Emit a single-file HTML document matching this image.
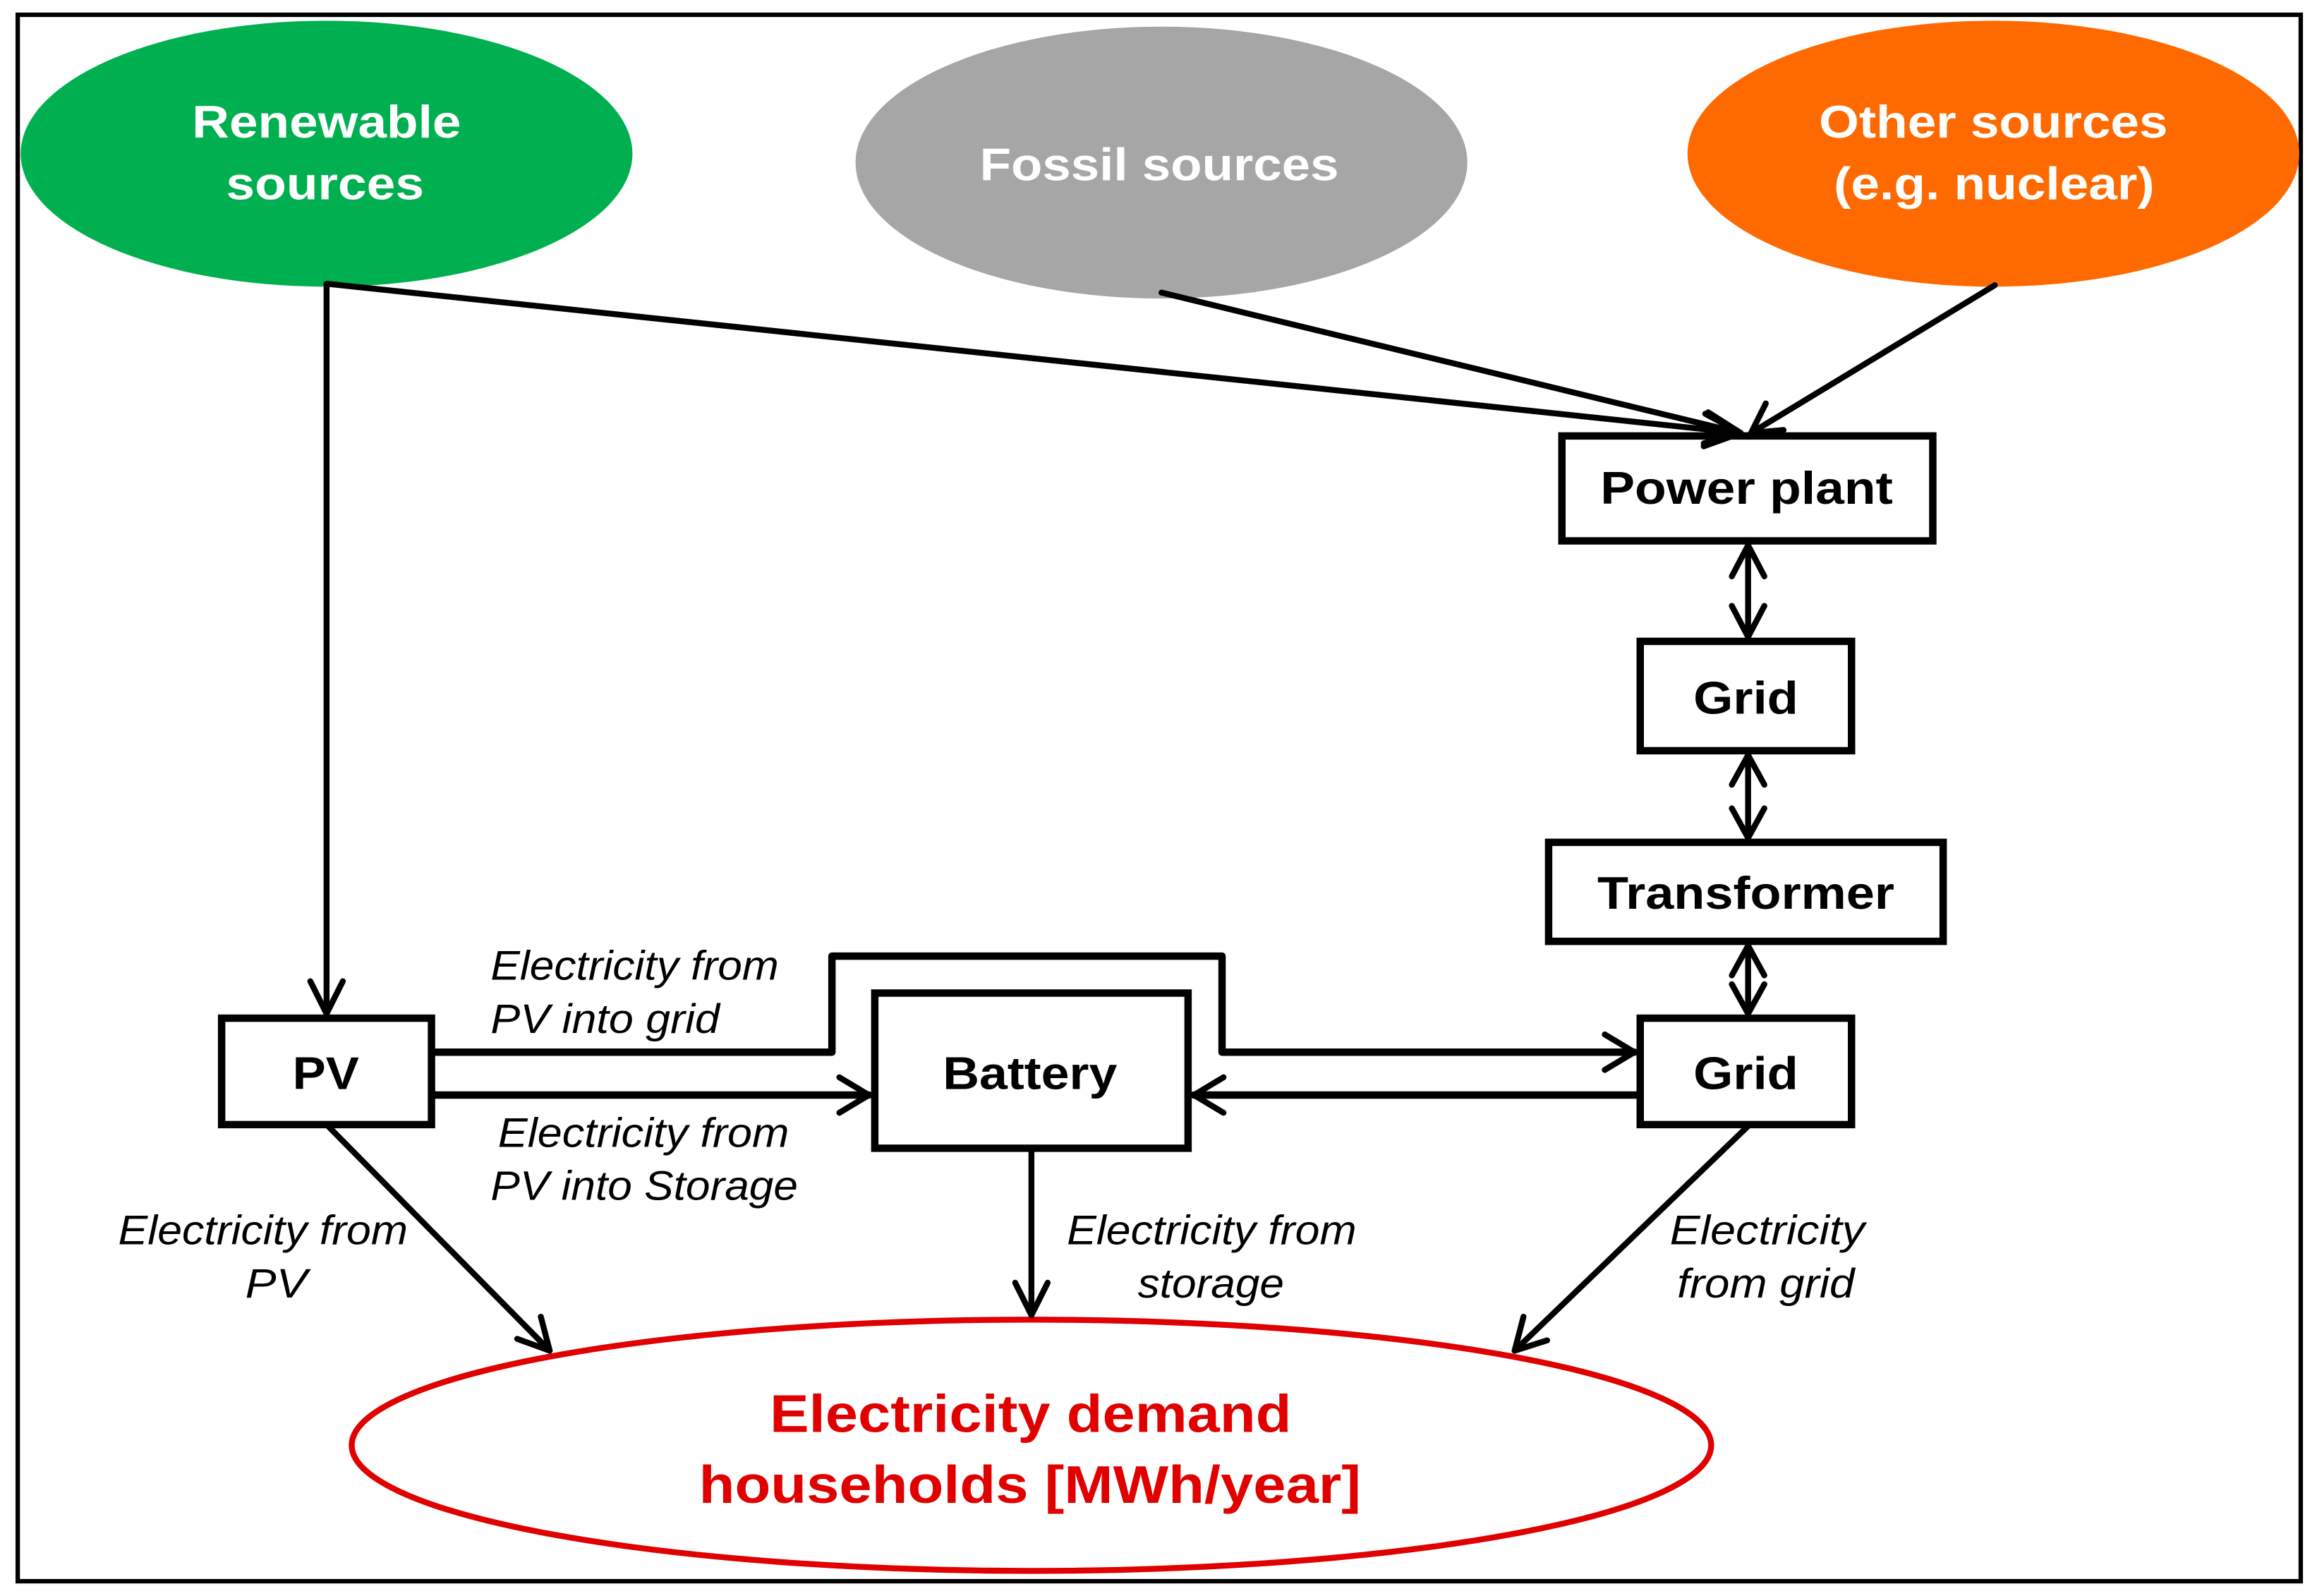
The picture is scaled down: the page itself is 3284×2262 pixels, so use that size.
<!DOCTYPE html>
<html><head><meta charset="utf-8"><style>html,body{margin:0;padding:0;background:#fff}svg{display:block}</style></head>
<body>
<svg width="3284" height="2262" viewBox="0 0 1568 1080" preserveAspectRatio="none" xmlns="http://www.w3.org/2000/svg" font-family="Liberation Sans, Arial, sans-serif">
<rect x="0" y="0" width="1568" height="1080" fill="#fff"/>
<rect x="12" y="10" width="1545" height="1060" fill="none" stroke="#000" stroke-width="3"/>
<ellipse cx="221" cy="104" rx="207" ry="90" fill="#00B050"/>
<ellipse cx="786" cy="110" rx="207" ry="92" fill="#A6A6A6"/>
<ellipse cx="1349" cy="104" rx="207" ry="90" fill="#FF6A00"/>
<ellipse cx="698" cy="978" rx="460" ry="85" fill="#fff" stroke="#E00000" stroke-width="4"/>
<g font-weight="bold" font-size="31" fill="#fff">
<text x="130" y="93" textLength="182" lengthAdjust="spacingAndGlyphs">Renewable</text>
<text x="153" y="135" textLength="134" lengthAdjust="spacingAndGlyphs">sources</text>
<text x="663" y="122" textLength="243" lengthAdjust="spacingAndGlyphs">Fossil sources</text>
<text x="1231" y="93" textLength="236" lengthAdjust="spacingAndGlyphs">Other sources</text>
<text x="1241" y="135" textLength="217" lengthAdjust="spacingAndGlyphs">(e.g. nuclear)</text>
</g>
<g font-weight="bold" font-size="36" fill="#E00000">
<text x="521" y="969" textLength="353" lengthAdjust="spacingAndGlyphs">Electricity demand</text>
<text x="473" y="1017" textLength="448" lengthAdjust="spacingAndGlyphs">households [MWh/year]</text>
</g>
<g fill="#fff" stroke="#000" stroke-width="5">
<rect x="1057" y="295" width="251" height="71"/>
<rect x="1110" y="434" width="143" height="74"/>
<rect x="1048" y="570" width="267" height="67"/>
<rect x="1110" y="689" width="143" height="72"/>
<rect x="150" y="689" width="142" height="72"/>
<rect x="592" y="672" width="212" height="105"/>
</g>
<g font-weight="bold" font-size="31" fill="#000">
<text x="1083" y="341" textLength="198" lengthAdjust="spacingAndGlyphs">Power plant</text>
<text x="1146" y="483" textLength="71" lengthAdjust="spacingAndGlyphs">Grid</text>
<text x="1081" y="615" textLength="201" lengthAdjust="spacingAndGlyphs">Transformer</text>
<text x="1146" y="737" textLength="71" lengthAdjust="spacingAndGlyphs">Grid</text>
<text x="198" y="737" textLength="45" lengthAdjust="spacingAndGlyphs">PV</text>
<text x="638" y="737" textLength="118" lengthAdjust="spacingAndGlyphs">Battery</text>
</g>
<g font-style="italic" font-size="28" fill="#000">
<text x="332" y="663" textLength="195" lengthAdjust="spacingAndGlyphs">Electricity from</text>
<text x="332" y="699" textLength="155" lengthAdjust="spacingAndGlyphs">PV into grid</text>
<text x="337" y="776" textLength="197" lengthAdjust="spacingAndGlyphs">Electricity from</text>
<text x="332" y="812" textLength="208" lengthAdjust="spacingAndGlyphs">PV into Storage</text>
<text x="80" y="842" textLength="196" lengthAdjust="spacingAndGlyphs">Electricity from</text>
<text x="166" y="878" textLength="42" lengthAdjust="spacingAndGlyphs">PV</text>
<text x="722" y="842" textLength="196" lengthAdjust="spacingAndGlyphs">Electricity from</text>
<text x="770" y="878" textLength="99" lengthAdjust="spacingAndGlyphs">storage</text>
<text x="1130" y="842" textLength="132" lengthAdjust="spacingAndGlyphs">Electricity</text>
<text x="1135" y="878" textLength="120" lengthAdjust="spacingAndGlyphs">from grid</text>
</g>
<g fill="none" stroke="#000" stroke-width="4" stroke-linecap="round" stroke-linejoin="round">
<line x1="221" y1="192" x2="221" y2="686"/><polyline points="210,664 221,686 232,664"/>
<line x1="221" y1="192" x2="1178" y2="293"/><polyline points="1154,280 1178,293 1153,302"/>
<line x1="786" y1="198" x2="1178" y2="293"/><polyline points="1156,279 1178,293 1153,300"/>
<line x1="1350" y1="193" x2="1185" y2="293"/><polyline points="1195,273 1185,293 1207,291"/>
<line x1="1183" y1="369" x2="1183" y2="431"/><polyline points="1172,390 1183,369 1194,390"/><polyline points="1172,410 1183,431 1194,410"/>
<line x1="1183" y1="511" x2="1183" y2="567"/><polyline points="1172,531 1183,511 1194,531"/><polyline points="1172,547 1183,567 1194,547"/>
<line x1="1183" y1="640" x2="1183" y2="686"/><polyline points="1172,660 1183,640 1194,660"/><polyline points="1172,666 1183,686 1194,666"/>
<polyline stroke-width="5" points="294,712 563,712 563,647 827,647 827,712 1106,712"/><polyline points="1086,700 1106,712 1086,724"/>
<line stroke-width="5" x1="294" y1="741" x2="588" y2="741"/><polyline points="568,729 588,741 568,753"/>
<line stroke-width="5" x1="1108" y1="741" x2="808" y2="741"/><polyline points="828,729 808,741 828,753"/>
<line x1="222" y1="762" x2="372" y2="914"/><polyline points="350,906 372,914 366,891"/>
<line x1="698" y1="779" x2="698" y2="890"/><polyline points="687,868 698,890 709,868"/>
<line x1="1183" y1="762" x2="1025" y2="914"/><polyline points="1031,891 1025,914 1047,907"/>
</g>
</svg>
</body></html>
